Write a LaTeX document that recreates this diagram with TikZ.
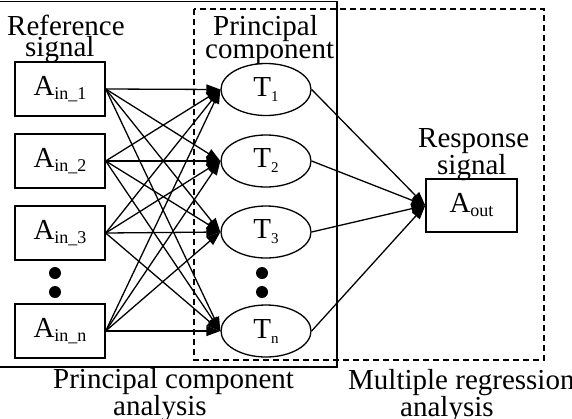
\documentclass[tikz,border=0pt]{standalone}
\usepackage{fontspec}
\setmainfont{Liberation Serif}
\usetikzlibrary{arrows.meta,shapes.geometric}
\newcommand{\twoline}[2]{\vtop{\hbox{#1}\hbox{#2}}}
\newcommand{\asub}[1]{\raisebox{-4pt}{\fontsize{18}{18}\selectfont #1}}
\newcommand{\tsub}[1]{\raisebox{-5pt}{\fontsize{15}{15}\selectfont #1}}
\begin{document}
\begin{tikzpicture}[x=1pt,y=-1pt,
  lbl/.style={font=\fontsize{29}{21}\selectfont, inner sep=0pt, anchor=base west},
  lblb/.style={font=\fontsize{29}{22}\selectfont, inner sep=0pt, anchor=base west},
  abox/.style={draw, line width=1.4pt, minimum width=90pt, minimum height=54pt, inner sep=0pt, font=\fontsize{29}{29}\selectfont},
  tell/.style={draw, ellipse, line width=1.3pt, minimum width=90pt, minimum height=52pt, inner sep=0pt, font=\fontsize{29}{29}\selectfont},
  conn/.style={line width=1.3pt, -{Triangle[length=14pt,width=10pt]}},
  bigdot/.style={fill, circle, minimum size=12pt, inner sep=0pt},
  frame/.style={line width=1.5pt},
  dframe/.style={line width=1.3pt, dash pattern=on 6pt off 4pt}
]
\useasboundingbox (0,0) rectangle (572,418);
% frames
\draw[frame] (-5,1.5) rectangle (337,367);
\draw[dframe] (194,9) rectangle (544,360);
% input boxes
\node[abox] (a1) at (60,89) {A\asub{in\_1}};
\node[abox] (a2) at (60,161) {A\asub{in\_2}};
\node[abox] (a3) at (60,233) {A\asub{in\_3}};
\node[abox] (an) at (60,331) {A\asub{in\_n}};
\node[bigdot] (d1) at (55,273) {};
\node[bigdot] (d2) at (55,292) {};
% principal components
\node[tell] (t1) at (266,89.5) {T\tsub{1}};
\node[tell] (t2) at (266,161) {T\tsub{2}};
\node[tell] (t3) at (266,232) {T\tsub{3}};
\node[tell] (tn) at (266,331) {T\tsub{n}};
\node[bigdot] (e1) at (262,273) {};
\node[bigdot] (e2) at (262,292) {};
% output
\node[abox, minimum width=91pt, minimum height=53pt] (aout) at (471.5,205.5) {A\asub{out}};
% connectors
\foreach \a in {a1,a2,a3,an}
  \foreach \t in {t1,t2,t3,tn}
    \draw[conn] (\a.east) -- (\t.west);
\foreach \t in {t1,t2,t3,tn}
  \draw[conn] (\t.east) -- (aout.west);
% labels
\node[lbl] (lref) at (7,35) {\twoline{Reference}{\hspace*{18pt}signal}};
\node[lbl] (lpc) at (205,35) {\twoline{\hspace*{8pt}Principal}{component}};
\node[lbl] (lresp) at (418,147) {\twoline{Response}{\hspace*{19pt}signal}};
\node[lblb] (lpca) at (53,388) {\twoline{Principal component}{\hspace*{60pt}analysis}};
\node[lblb] (lmra) at (348,389) {\twoline{Multiple regression}{\hspace*{52pt}analysis}};
\end{tikzpicture}
\end{document}
